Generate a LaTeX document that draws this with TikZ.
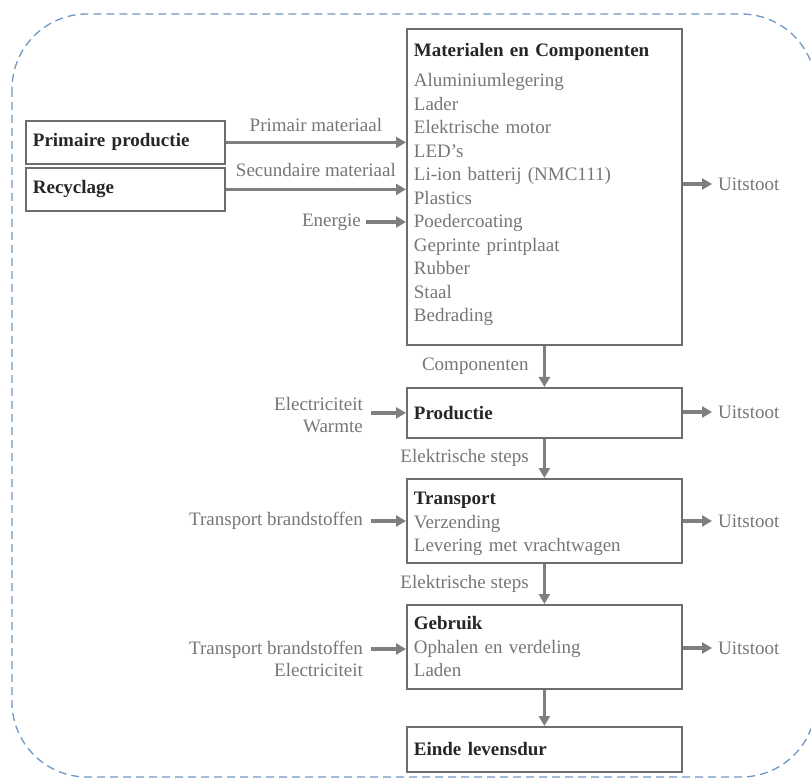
\documentclass[tikz,border=0pt]{standalone}
\usepackage{fontspec}
\setmainfont{Liberation Serif}
\usetikzlibrary{arrows.meta}
\usetikzlibrary{positioning}

\definecolor{flowgray}{RGB}{127,127,127}
\definecolor{boxgray}{RGB}{110,110,110}
\definecolor{txtgray}{RGB}{118,118,118}
\definecolor{titlecol}{RGB}{38,38,38}
\definecolor{dashblue}{RGB}{110,150,195}
\newcommand{\titel}[1]{{\bfseries\color{titlecol}#1}}

\begin{document}
\begin{tikzpicture}[x=1pt,y=-1pt, % pixel coordinates, y down
		stage/.style={draw=boxgray, line width=1.8pt, rectangle, anchor=north west, text width=261pt, inner sep=7pt, align=left, text=txtgray, font=\fontsize{19}{23.5}\selectfont},
		source/.style={stage, text width=185pt},
		lbl/.style={text=txtgray, inner sep=0pt, font=\fontsize{19}{22}\selectfont},
		flow/.style={draw=flowgray, line width=3.5pt, -{Triangle[length=10pt,width=11pt]}},
		border/.style={draw=dashblue, line width=1.3pt, dash pattern=on 8pt off 5pt, rounded corners=75pt}]
		
		\useasboundingbox (0,0) rectangle (811,783);
		\draw[border] (12,14) rectangle (816,777);		% system boundary
		
		% source boxes
		\node[source, minimum height=43pt] (primair) at (25,120) {\titel{Primaire productie}};
		\node[source, minimum height=43pt] (recyclage) at (25,167) {\titel{Recyclage}};
		
		% life cycle stages
		\node[stage, minimum height=316pt] (matcomp) at (406,28) {\titel{Materialen en Componenten}\\[7pt]
			Aluminiumlegering\\ Lader\\ Elektrische motor\\ LED’s\\ Li-ion batterij (NMC111)\\ Plastics\\ Poedercoating\\ Geprinte printplaat\\ Rubber\\ Staal\\ Bedrading\\[-14.5pt]\mbox{}};
		\node[stage, minimum height=50pt] (productie) at (406,387) {\titel{Productie}};
		\node[stage, minimum height=84pt] (transport) at (406,478) {\mbox{}\\[-4.5pt]\titel{Transport}\\ Verzending\\ Levering met vrachtwagen};
		\node[stage, minimum height=84pt] (gebruik) at (406,604) {\titel{Gebruik}\\ Ophalen en verdeling\\ Laden};
		\node[stage, minimum height=45pt] (einde) at (406,726) {\titel{Einde levensdur}};
		
		% inputs
		\node[lbl, anchor=east] (energie) at (361,222) {Energie};
		\node[lbl, anchor=east, align=right] (elecwarm) at (363,415) {Electriciteit\\ Warmte};
		\node[lbl, anchor=east] (brandstof) at (363,521) {Transport brandstoffen};
		\node[lbl, anchor=east, align=right] (gebrin) at (363,659) {Transport brandstoffen\\ Electriciteit};
		
		% outputs
		\node[lbl, anchor=west] (uit1) at (718,184) {Uitstoot};
		\node[lbl, anchor=west] (uit2) at (718,412) {Uitstoot};
		\node[lbl, anchor=west] (uit3) at (718,521) {Uitstoot};
		\node[lbl, anchor=west] (uit4) at (718,648) {Uitstoot};
		
		% flows
		\draw[flow] (primair.east) -- node[lbl, above=9pt] {Primair materiaal} (primair.east -| matcomp.west);
		\draw[flow] (recyclage.east) -- node[lbl, above=11pt] {Secundaire materiaal} (recyclage.east -| matcomp.west);
		\draw[flow] ([xshift=5pt]energie.east) -- (energie.east -| matcomp.west);
		\draw[flow] ([xshift=8pt]elecwarm.east |- productie.west) -- (productie.west);
		\draw[flow] ([xshift=8pt]brandstof.east) -- (brandstof.east -| transport.west);
		\draw[flow] ([xshift=8pt]gebrin.east |- 0,649) -- (gebruik.west |- 0,649);
		
		\draw[flow] (matcomp.south) -- node[lbl, left=14pt] {Componenten} (productie.north);
		\draw[flow] (productie.south) -- node[lbl, left=14pt] {Elektrische steps} (transport.north);
		\draw[flow] (transport.south) -- node[lbl, left=14pt] {Elektrische steps} (gebruik.north);
		\draw[flow] (gebruik.south) -- (einde.north);
		
		\draw[flow] (matcomp.east |- uit1.west) -- ([xshift=-6pt]uit1.west);
		\draw[flow] (productie.east |- uit2.west) -- ([xshift=-6pt]uit2.west);
		\draw[flow] (transport.east |- uit3.west) -- ([xshift=-6pt]uit3.west);
		\draw[flow] (gebruik.east |- uit4.west) -- ([xshift=-6pt]uit4.west);
\end{tikzpicture}
\end{document}
